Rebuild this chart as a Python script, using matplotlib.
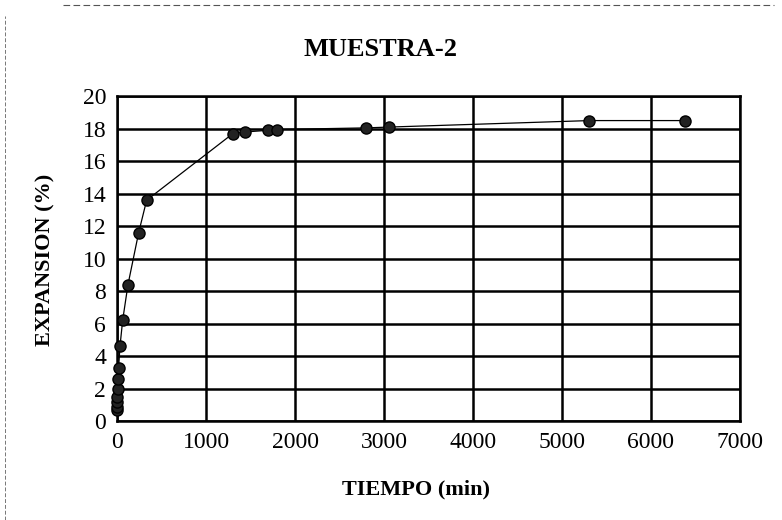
import matplotlib
matplotlib.use('Agg')
import matplotlib.pyplot as plt
from matplotlib.lines import Line2D

# data
tiempo = [0.25, 0.5, 1, 2, 4, 8, 15, 30, 60, 120, 240, 330,
          1300, 1440, 1690, 1800, 2800, 3055, 5310, 6380]
expansion = [0.7, 0.9, 1.2, 1.5, 2.0, 2.6, 3.3, 4.6, 6.2, 8.4, 11.6, 13.6,
             17.7, 17.8, 17.9, 17.95, 18.05, 18.1, 18.5, 18.5]

plt.rcParams['font.family'] = ['Liberation Serif', 'DejaVu Serif']

fig = plt.figure(figsize=(7.82, 5.2), dpi=100)
ax = fig.add_axes([0.150, 0.190, 0.796, 0.625])

ax.plot(tiempo, expansion, color='black', lw=0.9, marker='o',
        markersize=8, markerfacecolor='#222222', markeredgecolor='black',
        zorder=3, clip_on=False)

ax.set_xlim(0, 7000)
ax.set_ylim(0, 20)
ax.set_xticks(range(0, 7001, 1000))
ax.set_yticks(range(0, 21, 2))
ax.grid(True, color='black', lw=1.8)
ax.set_axisbelow(True)
for s in ax.spines.values():
    s.set_linewidth(1.8)
ax.tick_params(length=0, labelsize=17, pad=8)

fig.text(0.486, 0.905, 'MUESTRA-2', ha='center', va='center',
         fontsize=19, fontweight='bold')
fig.text(0.532, 0.058, 'TIEMPO (min)', ha='center', va='center',
         fontsize=16, fontweight='bold')
fig.text(0.058, 0.5, 'EXPANSION (%)', ha='center', va='center',
         rotation=90, fontsize=16, fontweight='bold')

# scan border remnants
fig.add_artist(Line2D([0.08, 0.99], [0.99, 0.99], color='#555555', lw=0.8,
                      ls=(0, (6, 3))))
fig.add_artist(Line2D([0.006, 0.006], [0.0, 0.97], color='#777777', lw=0.7,
                      ls=(0, (4, 2))))

fig.savefig('out.png', dpi=100)
